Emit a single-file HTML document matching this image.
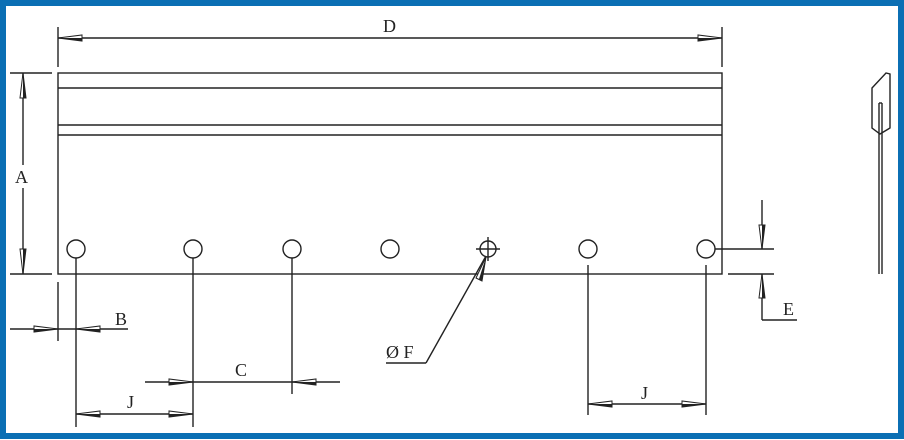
<!DOCTYPE html>
<html><head><style>
html,body{margin:0;padding:0;background:#fff;}
svg{display:block;}
text{font-family:"Liberation Serif",serif;font-size:18px;fill:#222;}
</style></head><body>
<svg width="904" height="440" viewBox="0 0 904 440" xmlns="http://www.w3.org/2000/svg">
<rect x="0" y="0" width="904" height="440" fill="#fff"/>
<rect x="3" y="3" width="898" height="433" fill="none" stroke="#0b6fb4" stroke-width="6"/>
<g stroke="#222" stroke-width="1.4" fill="none">
<rect x="58" y="73" width="664" height="201"/>
<line x1="58" y1="88" x2="722" y2="88"/>
<line x1="58" y1="125" x2="722" y2="125"/>
<line x1="58" y1="135" x2="722" y2="135"/>
<circle cx="76" cy="249" r="9"/>
<circle cx="193" cy="249" r="9"/>
<circle cx="292" cy="249" r="9"/>
<circle cx="390" cy="249" r="9"/>
<circle cx="488" cy="249" r="8"/>
<circle cx="588" cy="249" r="9"/>
<circle cx="706" cy="249" r="9"/>
<line x1="476" y1="249" x2="500" y2="249"/>
<line x1="488" y1="237" x2="488" y2="261"/>
<line x1="58" y1="27" x2="58" y2="67"/>
<line x1="722" y1="27" x2="722" y2="67"/>
<line x1="58" y1="38" x2="722" y2="38"/>
<line x1="10" y1="73" x2="52" y2="73"/>
<line x1="10" y1="274" x2="52" y2="274"/>
<line x1="23" y1="73" x2="23" y2="165"/>
<line x1="23" y1="188" x2="23" y2="274"/>
<line x1="58" y1="282" x2="58" y2="341"/>
<line x1="76" y1="258" x2="76" y2="427"/>
<line x1="193" y1="258" x2="193" y2="427"/>
<line x1="292" y1="258" x2="292" y2="394"/>
<line x1="588" y1="265" x2="588" y2="415"/>
<line x1="706" y1="265" x2="706" y2="415"/>
<line x1="10" y1="329" x2="128" y2="329"/>
<line x1="145" y1="382" x2="340" y2="382"/>
<line x1="76" y1="414" x2="193" y2="414"/>
<line x1="588" y1="404" x2="706" y2="404"/>
<line x1="486" y1="256" x2="426" y2="363"/>
<line x1="426" y1="363" x2="386" y2="363"/>
<line x1="715" y1="249" x2="774" y2="249"/>
<line x1="728" y1="274" x2="774" y2="274"/>
<line x1="762" y1="200" x2="762" y2="249"/>
<line x1="762" y1="274" x2="762" y2="320"/>
<line x1="762" y1="320" x2="797" y2="320"/>
<polygon points="872,88 886,73 890,74 890,128 880,134 872,128"/>
<line x1="879" y1="103" x2="879" y2="274"/>
<line x1="882" y1="103" x2="882" y2="274"/>
<line x1="879" y1="103" x2="882" y2="103"/>
</g>
<g fill="#fff" stroke="#222" stroke-width="1">
<polygon points="58,38 82,35 82,41"/>
<polygon points="722,38 698,35 698,41"/>
<polygon points="23,73 20,98 26,98"/>
<polygon points="23,274 20,249 26,249"/>
<polygon points="58,329 34,326 34,332"/>
<polygon points="76,329 100,326 100,332"/>
<polygon points="193,382 169,379 169,385"/>
<polygon points="292,382 316,379 316,385"/>
<polygon points="76,414 100,411 100,417"/>
<polygon points="193,414 169,411 169,417"/>
<polygon points="588,404 612,401 612,407"/>
<polygon points="706,404 682,401 682,407"/>
<polygon points="762,249 759,225 765,225"/>
<polygon points="762,274 759,298 765,298"/>
<polygon points="486,257 476,278 482,281"/>
</g>
<g fill="#222">
<polygon points="58,38 82,38 82,41"/>
<polygon points="722,38 698,38 698,41"/>
<polygon points="23,73 23,98 26,98"/>
<polygon points="23,274 23,249 26,249"/>
<polygon points="58,329 34,329 34,332"/>
<polygon points="76,329 100,329 100,332"/>
<polygon points="193,382 169,382 169,385"/>
<polygon points="292,382 316,382 316,385"/>
<polygon points="76,414 100,414 100,417"/>
<polygon points="193,414 169,414 169,417"/>
<polygon points="588,404 612,404 612,407"/>
<polygon points="706,404 682,404 682,407"/>
<polygon points="762,249 762,225 765,225"/>
<polygon points="762,274 762,298 765,298"/>
<polygon points="486,257 479,279 482,281"/>
</g>
<text x="383" y="32">D</text>
<text x="15" y="183">A</text>
<text x="115" y="325">B</text>
<text x="235" y="376">C</text>
<text x="127" y="408">J</text>
<text x="641" y="399">J</text>
<text x="386" y="358">Ø F</text>
<text x="783" y="315">E</text>
</svg>
</body></html>
